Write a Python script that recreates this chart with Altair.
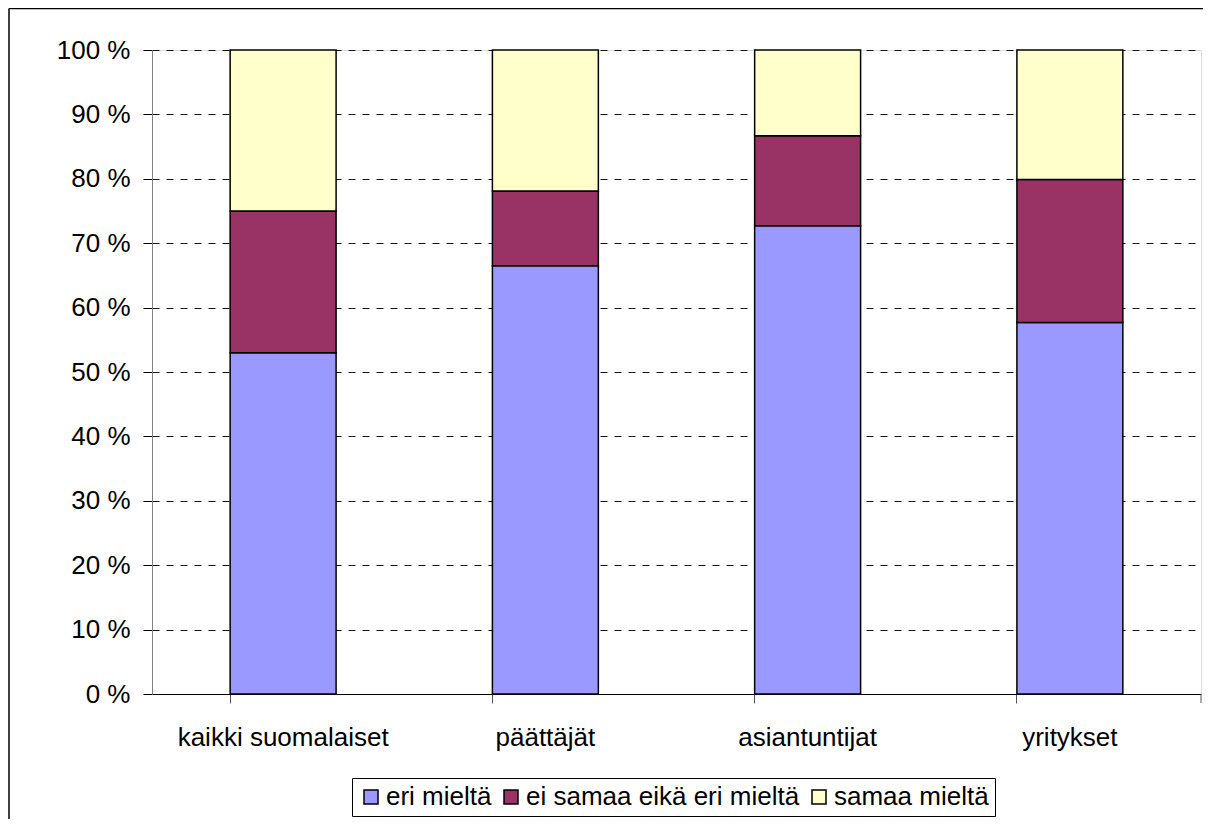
import altair as alt
import pandas as pd

categories = ["kaikki suomalaiset", "päättäjät", "asiantuntijat", "yritykset"]
series = ["eri mieltä", "ei samaa eikä eri mieltä", "samaa mieltä"]
eri_mielta = [53.0, 66.5, 72.7, 57.7]
ei_samaa = [22.0, 11.6, 14.0, 22.2]
samaa_mielta = [25.0, 21.9, 13.3, 20.1]
colors = ["#9999FF", "#993366", "#FFFFCC"]
y_ticks = [0, 10, 20, 30, 40, 50, 60, 70, 80, 90, 100]

rows = []
for i, c in enumerate(categories):
    for k, (s, vals) in enumerate(zip(series, [eri_mielta, ei_samaa, samaa_mielta])):
        rows.append({"kategoria": c, "sarja": s, "arvo": vals[i], "jarj": k})
df = pd.DataFrame(rows)

FONT = "Liberation Sans"

bars = alt.Chart(df).mark_bar(stroke="#000000", strokeWidth=1.5).encode(
    x=alt.X("kategoria:N", sort=categories,
            scale=alt.Scale(paddingInner=0.596, paddingOuter=0.298),
            axis=alt.Axis(title=None, labelAngle=0, bandPosition=0,
                          domainColor="#000000", tickColor="#555555",
                          tickSize=9, labelPadding=21, labelFontSize=26,
                          labelFont=FONT, labelColor="#000000", grid=False,
                          labelLimit=0)),
    y=alt.Y("arvo:Q", stack="zero",
            scale=alt.Scale(domain=[0, 100], nice=False),
            axis=alt.Axis(title=None, values=y_ticks,
                          labelExpr="datum.value + ' %'",
                          domainColor="#808080", tickColor="#000000",
                          tickSize=9, labelPadding=13, labelFontSize=26,
                          labelFont=FONT, labelColor="#000000",
                          grid=True, gridColor="#111111", gridDash=[7, 7],
                          gridWidth=1)),
    color=alt.Color("sarja:N", sort=series,
                    scale=alt.Scale(domain=series, range=colors),
                    legend=alt.Legend(title=None, orient="none", legendX=200,
                                      legendY=728, direction="horizontal",
                                      strokeColor="#000000", fillColor="#FFFFFF",
                                      padding=6, symbolType="square",
                                      symbolSize=196, symbolStrokeColor="#000000",
                                      symbolStrokeWidth=1.5, symbolOpacity=1,
                                      labelFontSize=26, labelFont=FONT,
                                      labelColor="#000000", labelOffset=2,
                                      columnPadding=6, labelLimit=0)),
    order=alt.Order("jarj:Q"),
)

frame_df = pd.DataFrame({"a": [0]})
frame_top = alt.Chart(frame_df).mark_rule(color="#000000", strokeWidth=1.5).encode(
    x=alt.value(-143), x2=alt.value(1100), y=alt.value(-41.5), y2=alt.value(-41.5)
)
frame_left = alt.Chart(frame_df).mark_rule(color="#000000", strokeWidth=1.5).encode(
    x=alt.value(-143), x2=alt.value(-143), y=alt.value(-41.5), y2=alt.value(900)
)
end_tick = alt.Chart(frame_df).mark_rule(color="#555555", strokeWidth=1).encode(
    x=alt.value(1049), x2=alt.value(1049), y=alt.value(644), y2=alt.value(653)
)

chart = alt.layer(bars, end_tick, frame_top, frame_left).properties(
    width=1049, height=644,
    autosize=alt.AutoSizeParams(type="none"),
    padding={"left": 144, "top": 42, "right": 2, "bottom": 125},
).configure_view(stroke=None).configure(background="#FFFFFF")

chart.save("out.html", embed_options={"renderer": "svg", "actions": False})
